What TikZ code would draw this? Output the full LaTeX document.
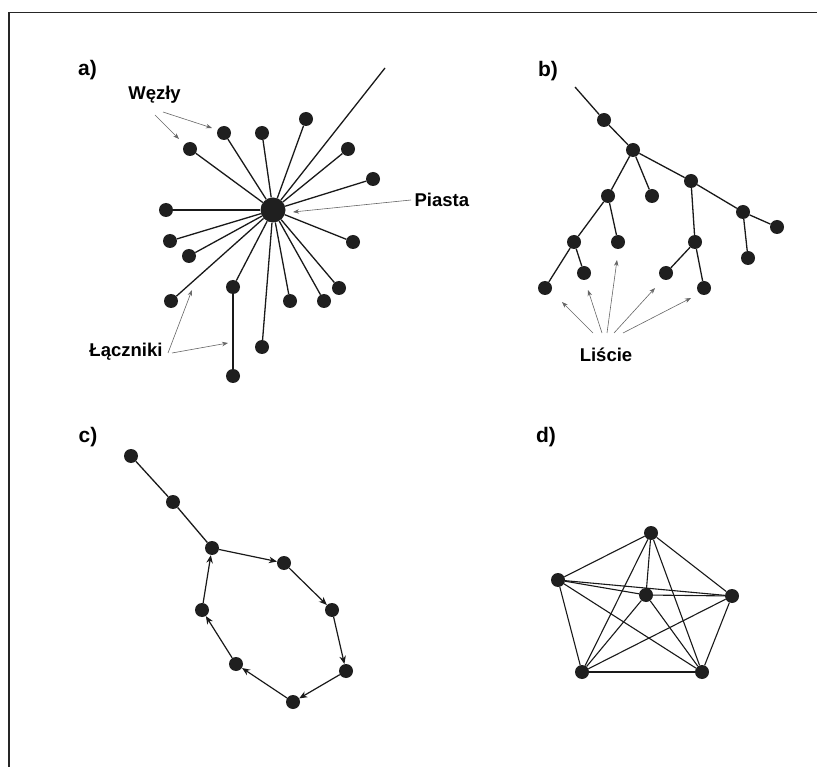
\documentclass[tikz,border=0pt]{standalone}
\usepackage{fontspec}
\setmainfont{Liberation Sans}
\usetikzlibrary{arrows.meta}
\begin{document}
\begin{tikzpicture}[x=1pt,y=-1pt,
  dot/.style={circle,fill=black!88,inner sep=0pt,minimum size=14pt},
  hubdot/.style={circle,fill=black!88,inner sep=0pt,minimum size=25pt},
  edge/.style={line width=1.3pt,black!90},
  note/.style={line width=0.6pt,black!60,-{Stealth[length=6pt,width=4.5pt]}},
  flow/.style={line width=1.2pt,black!90,-{Stealth[length=8pt,width=6.5pt,inset=2.5pt]}},
  panel/.style={font=\bfseries\fontsize{21}{21}\selectfont},
  lbl/.style={font=\bfseries\fontsize{18.5}{18.5}\selectfont}]
\useasboundingbox (0,0) rectangle (817,767);
% frame
\draw[line width=1.6pt,black!85] (9,767) -- (9,12.5) -- (817,12.5);

% ---------- a) star ----------
\node[panel] (la) at (87.5,70) {a)};
\node[hubdot] (hub) at (273,210) {};
\coordinate (tail) at (385,68);
\foreach \n/\x/\y in {a1/190/149,a2/224/133,a3/262/133,a4/306/119,a5/348/149,
  a6/373/179,a7/166/210,a8/170/241,a9/189/256,a10/353/242,a11/171/301,
  a12/233/287,a13/290/301,a14/324/301,a15/339/288,a16/262/347}{
  \node[dot] (\n) at (\x,\y) {};
  \draw[edge] (hub) -- (\n);
}
\node[dot] (a17) at (233,376) {};
\draw[edge] (a12) -- (a17);
\draw[edge] (hub) -- (tail);

\node[lbl] (wezly) at (154.5,95) {Węzły};
\coordinate (w1) at (179,139);
\coordinate (w2) at (212,128);
\draw[note] (155,115) -- (w1);
\draw[note] (163,112) -- (w2);

\node[lbl,anchor=west] (piasta) at (411,200) {Piasta};
\coordinate (p1) at (293,212);
\draw[note] (piasta.west) -- (p1);

\node[lbl,anchor=east] (lacz) at (166,352) {Łączniki};
\coordinate (l1) at (192,290);
\coordinate (l2) at (228,343);
\draw[note] (168,353) -- (l1);
\draw[note] (172,353) -- (l2);

% ---------- b) tree ----------
\node[panel] (lb) at (548,71) {b)};
\coordinate (broot) at (575,87);
\foreach \n/\x/\y in {b1/604/120,b2/633/150,b3/608/196,b4/652/196,b5/691/181,
  b6/743/212,b7/777/227,b8/748/258,b9/695/242,b10/666/273,b11/704/288,
  b12/574/242,b13/618/242,b14/584/273,b15/545/288}{
  \node[dot] (\n) at (\x,\y) {};
}
\foreach \a/\b in {broot/b1,b1/b2,b2/b3,b2/b4,b2/b5,b5/b6,b6/b7,b6/b8,b5/b9,
  b9/b10,b9/b11,b3/b12,b3/b13,b12/b14,b12/b15}{
  \draw[edge] (\a) -- (\b);
}
\node[lbl] (liscie) at (606,355) {Liście};
\coordinate (f1) at (562,302);
\coordinate (f2) at (588,290);
\coordinate (f3) at (617,260);
\coordinate (f4) at (655,288);
\coordinate (f5) at (691,298);
\draw[note] (593,333) -- (f1);
\draw[note] (602,333) -- (f2);
\draw[note] (607,333) -- (f3);
\draw[note] (614,333) -- (f4);
\draw[note] (623,333) -- (f5);

% ---------- c) cycle ----------
\node[panel] (lc) at (88,437) {c)};
\foreach \n/\x/\y in {c1/131/456,c2/173/502,c3/212/548,c4/284/563,c5/332/610,
  c6/346/671,c7/293/702,c8/236/664,c9/202/610}{
  \node[dot] (\n) at (\x,\y) {};
}
\draw[edge] (c1) -- (c2);
\draw[edge] (c2) -- (c3);
\foreach \a/\b in {c3/c4,c4/c5,c5/c6,c6/c7,c7/c8,c8/c9,c9/c3}{
  \draw[flow] (\a) -- (\b);
}

% ---------- d) complete graph ----------
\node[panel] (ld) at (546,437) {d)};
\foreach \n/\x/\y in {d1/651/533,d2/558/580,d3/646/595,d4/732/596,d5/582/672,d6/702/672}{
  \node[dot] (\n) at (\x,\y) {};
}
\foreach \a/\b in {d1/d2,d1/d3,d1/d4,d1/d5,d1/d6,d2/d3,d2/d4,d2/d5,d2/d6,
  d3/d4,d3/d5,d3/d6,d4/d5,d4/d6,d5/d6}{
  \draw[edge,line width=1.1pt] (\a) -- (\b);
}
\end{tikzpicture}
\end{document}
